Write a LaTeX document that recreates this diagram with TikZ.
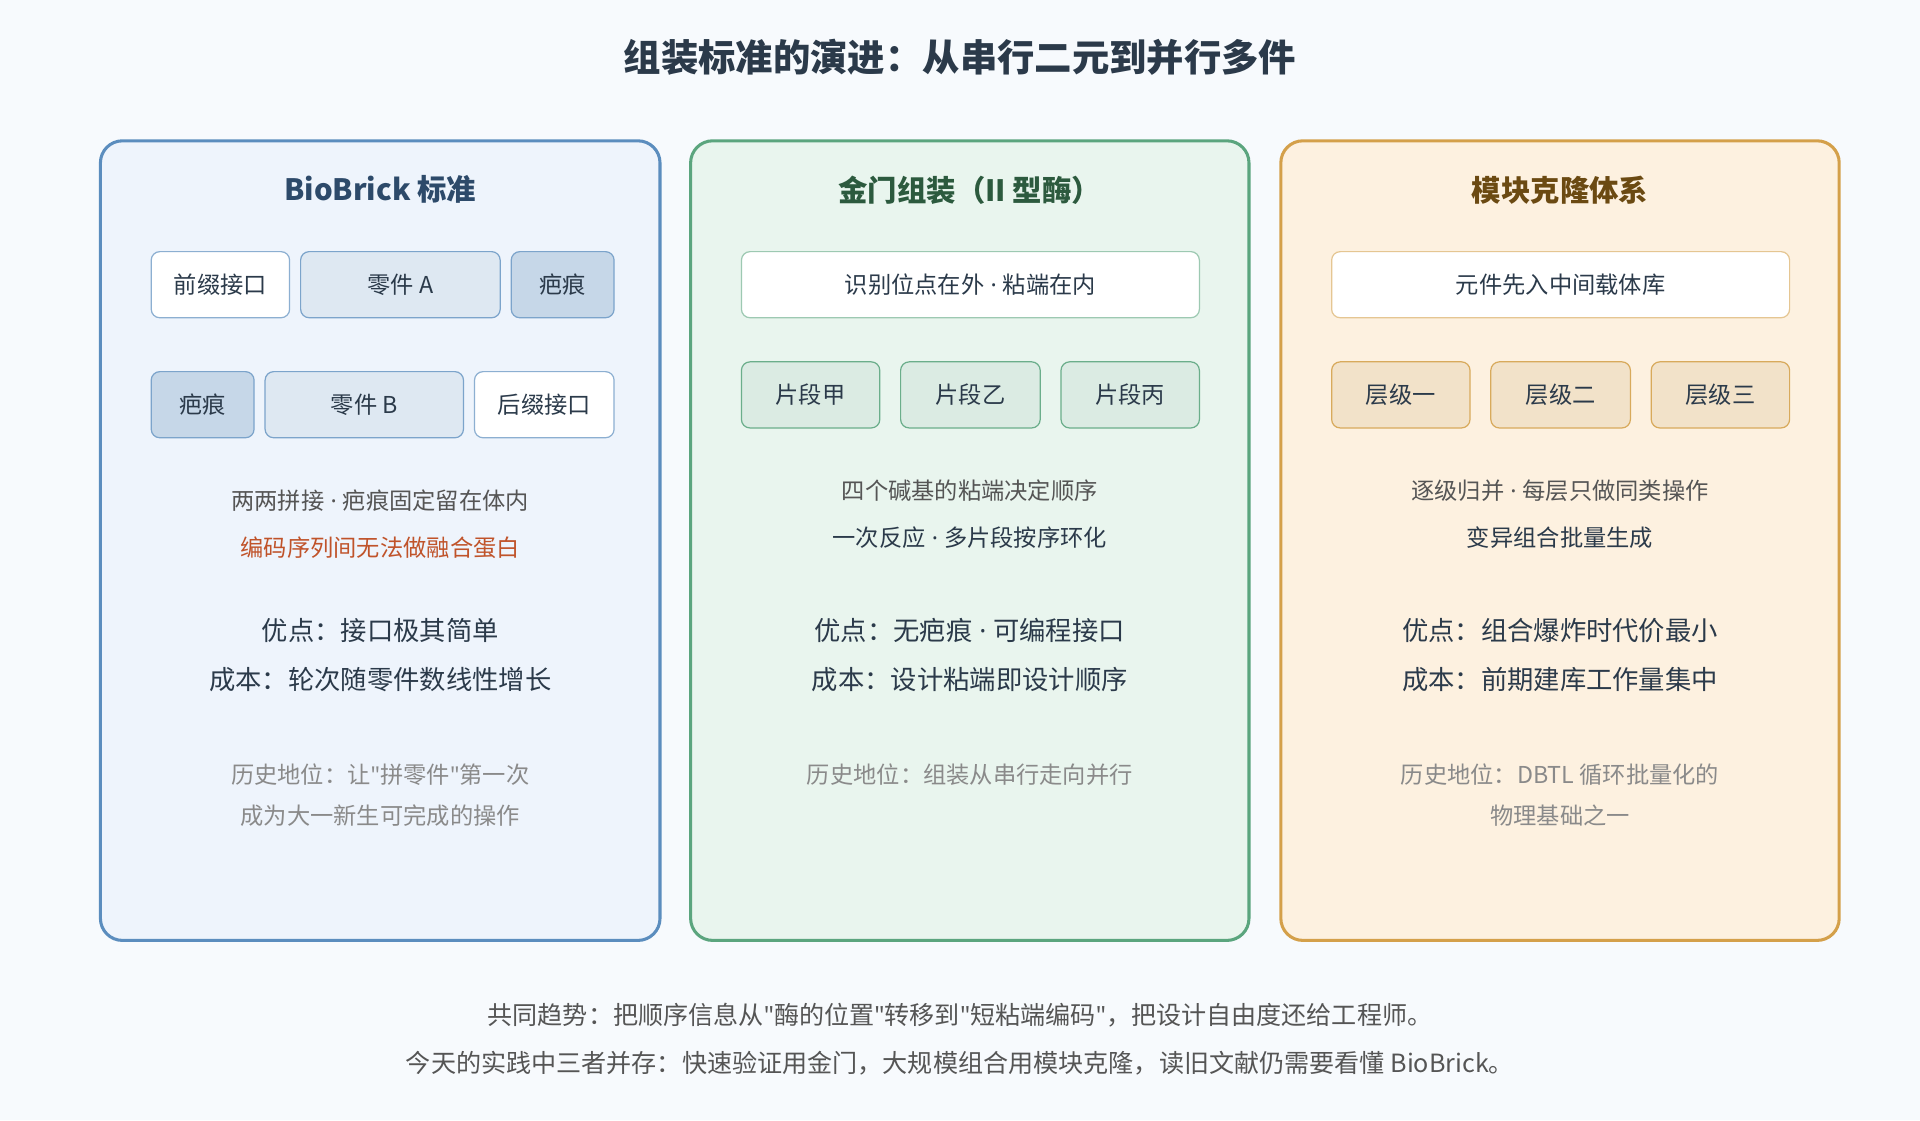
\documentclass[tikz,border=0pt]{standalone}
\usepackage{fontspec}
\setmainfont{Noto Sans CJK SC}
\newfontfamily\lat{Noto Sans}
\newcommand{\q}{{\lat"}}
\newcommand{\md}{{\lat\ ·\ }}
\definecolor{bg}{HTML}{F7FAFD}
\definecolor{bA}{HTML}{5B8DBE}\definecolor{fA}{HTML}{EEF4FC}
\definecolor{bB}{HTML}{5BA57E}\definecolor{fB}{HTML}{E9F5EE}
\definecolor{bC}{HTML}{D4A04A}\definecolor{fC}{HTML}{FDF1E0}
\definecolor{tA}{HTML}{2D4A6A}\definecolor{tB}{HTML}{2C5A3E}\definecolor{tC}{HTML}{6B4A12}
\definecolor{gr}{HTML}{555555}\definecolor{lg}{HTML}{8A8A8A}\definecolor{dk}{HTML}{2B3A4A}
\definecolor{orn}{HTML}{C0532A}
\begin{document}
\begin{tikzpicture}[x=1pt,y=-1pt,
 panel/.style={rounded corners=18pt,line width=2.5pt},
 box/.style={rounded corners=7pt,line width=1pt,minimum height=54pt,anchor=north west,inner sep=0pt,font=\fontsize{19}{19}\selectfont,text=dk},
 ptitle/.style={font=\fontsize{24}{24}\selectfont\bfseries},
 mid/.style={font=\fontsize{19}{19}\selectfont,text=gr},
 big/.style={font=\fontsize{21.5}{21.5}\selectfont,text=dk},
 hist/.style={font=\fontsize{19}{19}\selectfont,text=lg}]
\fill[bg] (0,0) rectangle (1568,915);
\useasboundingbox (0,0) rectangle (1568,915);
\node[font=\fontsize{30.5}{30.5}\selectfont\bfseries,text=dk] (title) at (784,47) {组装标准的演进：从串行二元到并行多件};
% panels
\draw[panel,draw=bA,fill=fA] (82,115) rectangle (539,768);
\draw[panel,draw=bB,fill=fB] (564,115) rectangle (1020,768);
\draw[panel,draw=bC,fill=fC] (1046,115) rectangle (1502,768);
\node[ptitle,text=tA] (t1) at (310.5,155) {BioBrick 标准};
\node[ptitle,text=tB] (t2) at (792,155) {金门组装（II 型酶）};
\node[ptitle,text=tC] (t3) at (1274,155) {模块克隆体系};
% panel 1
\node[box,draw=bA!70,fill=white,minimum width=113pt] (a1) at (123,205) {前缀接口};
\node[box,draw=bA!80,fill=bA!20,minimum width=163pt] (a2) at (245,205) {零件 A};
\node[box,draw=bA!80,fill=bA!35,minimum width=84pt] (a3) at (417,205) {疤痕};
\node[box,draw=bA!80,fill=bA!35,minimum width=84pt] (b1) at (123,303) {疤痕};
\node[box,draw=bA!80,fill=bA!20,minimum width=162pt] (b2) at (216,303) {零件 B};
\node[box,draw=bA!70,fill=white,minimum width=114pt] (b3) at (387,303) {后缀接口};
\node[mid] (p1a) at (310.5,409) {两两拼接\md 疤痕固定留在体内};
\node[mid,text=orn] (p1b) at (310.5,447) {编码序列间无法做融合蛋白};
\node[big] (p1c) at (310.5,515) {优点：接口极其简单};
\node[big] (p1d) at (310.5,555) {成本：轮次随零件数线性增长};
\node[hist] (p1e) at (310.5,633) {历史地位：让\q 拼零件\q 第一次};
\node[hist] (p1f) at (310.5,666) {成为大一新生可完成的操作};
% panel 2
\node[box,draw=bB!60,fill=white,minimum width=374pt] (c1) at (605,205) {识别位点在外\md 粘端在内};
\node[box,draw=bB!90,fill=bB!22,minimum width=113pt] (c2) at (605,295) {片段甲};
\node[box,draw=bB!90,fill=bB!22,minimum width=114pt] (c3) at (735,295) {片段乙};
\node[box,draw=bB!90,fill=bB!22,minimum width=113pt] (c4) at (866,295) {片段丙};
\node[mid] (p2a) at (792,401) {四个碱基的粘端决定顺序};
\node[mid,text=dk] (p2b) at (792,439) {一次反应\md 多片段按序环化};
\node[big] (p2c) at (792,515) {优点：无疤痕\md 可编程接口};
\node[big] (p2d) at (792,555) {成本：设计粘端即设计顺序};
\node[hist] (p2e) at (792,633) {历史地位：组装从串行走向并行};
% panel 3
\node[box,draw=bC!60,fill=white,minimum width=374pt] (d1) at (1087,205) {元件先入中间载体库};
\node[box,draw=bC!90,fill=bC!30,minimum width=113pt] (d2) at (1087,295) {层级一};
\node[box,draw=bC!90,fill=bC!30,minimum width=114pt] (d3) at (1217,295) {层级二};
\node[box,draw=bC!90,fill=bC!30,minimum width=113pt] (d4) at (1348,295) {层级三};
\node[mid] (p3a) at (1274,401) {逐级归并\md 每层只做同类操作};
\node[mid,text=dk] (p3b) at (1274,439) {变异组合批量生成};
\node[big] (p3c) at (1274,515) {优点：组合爆炸时代价最小};
\node[big] (p3d) at (1274,555) {成本：前期建库工作量集中};
\node[hist] (p3e) at (1274,633) {历史地位：DBTL 循环批量化的};
\node[hist] (p3f) at (1274,666) {物理基础之一};
% bottom
\node[font=\fontsize{20.5}{20.5}\selectfont,text=gr] (f1) at (784,829) {共同趋势：把顺序信息从\q 酶的位置\q 转移到\q 短粘端编码\q ，把设计自由度还给工程师。};
\node[font=\fontsize{20.5}{20.5}\selectfont,text=gr] (f2) at (784,868) {今天的实践中三者并存：快速验证用金门，大规模组合用模块克隆，读旧文献仍需要看懂 BioBrick。};
\end{tikzpicture}
\end{document}
